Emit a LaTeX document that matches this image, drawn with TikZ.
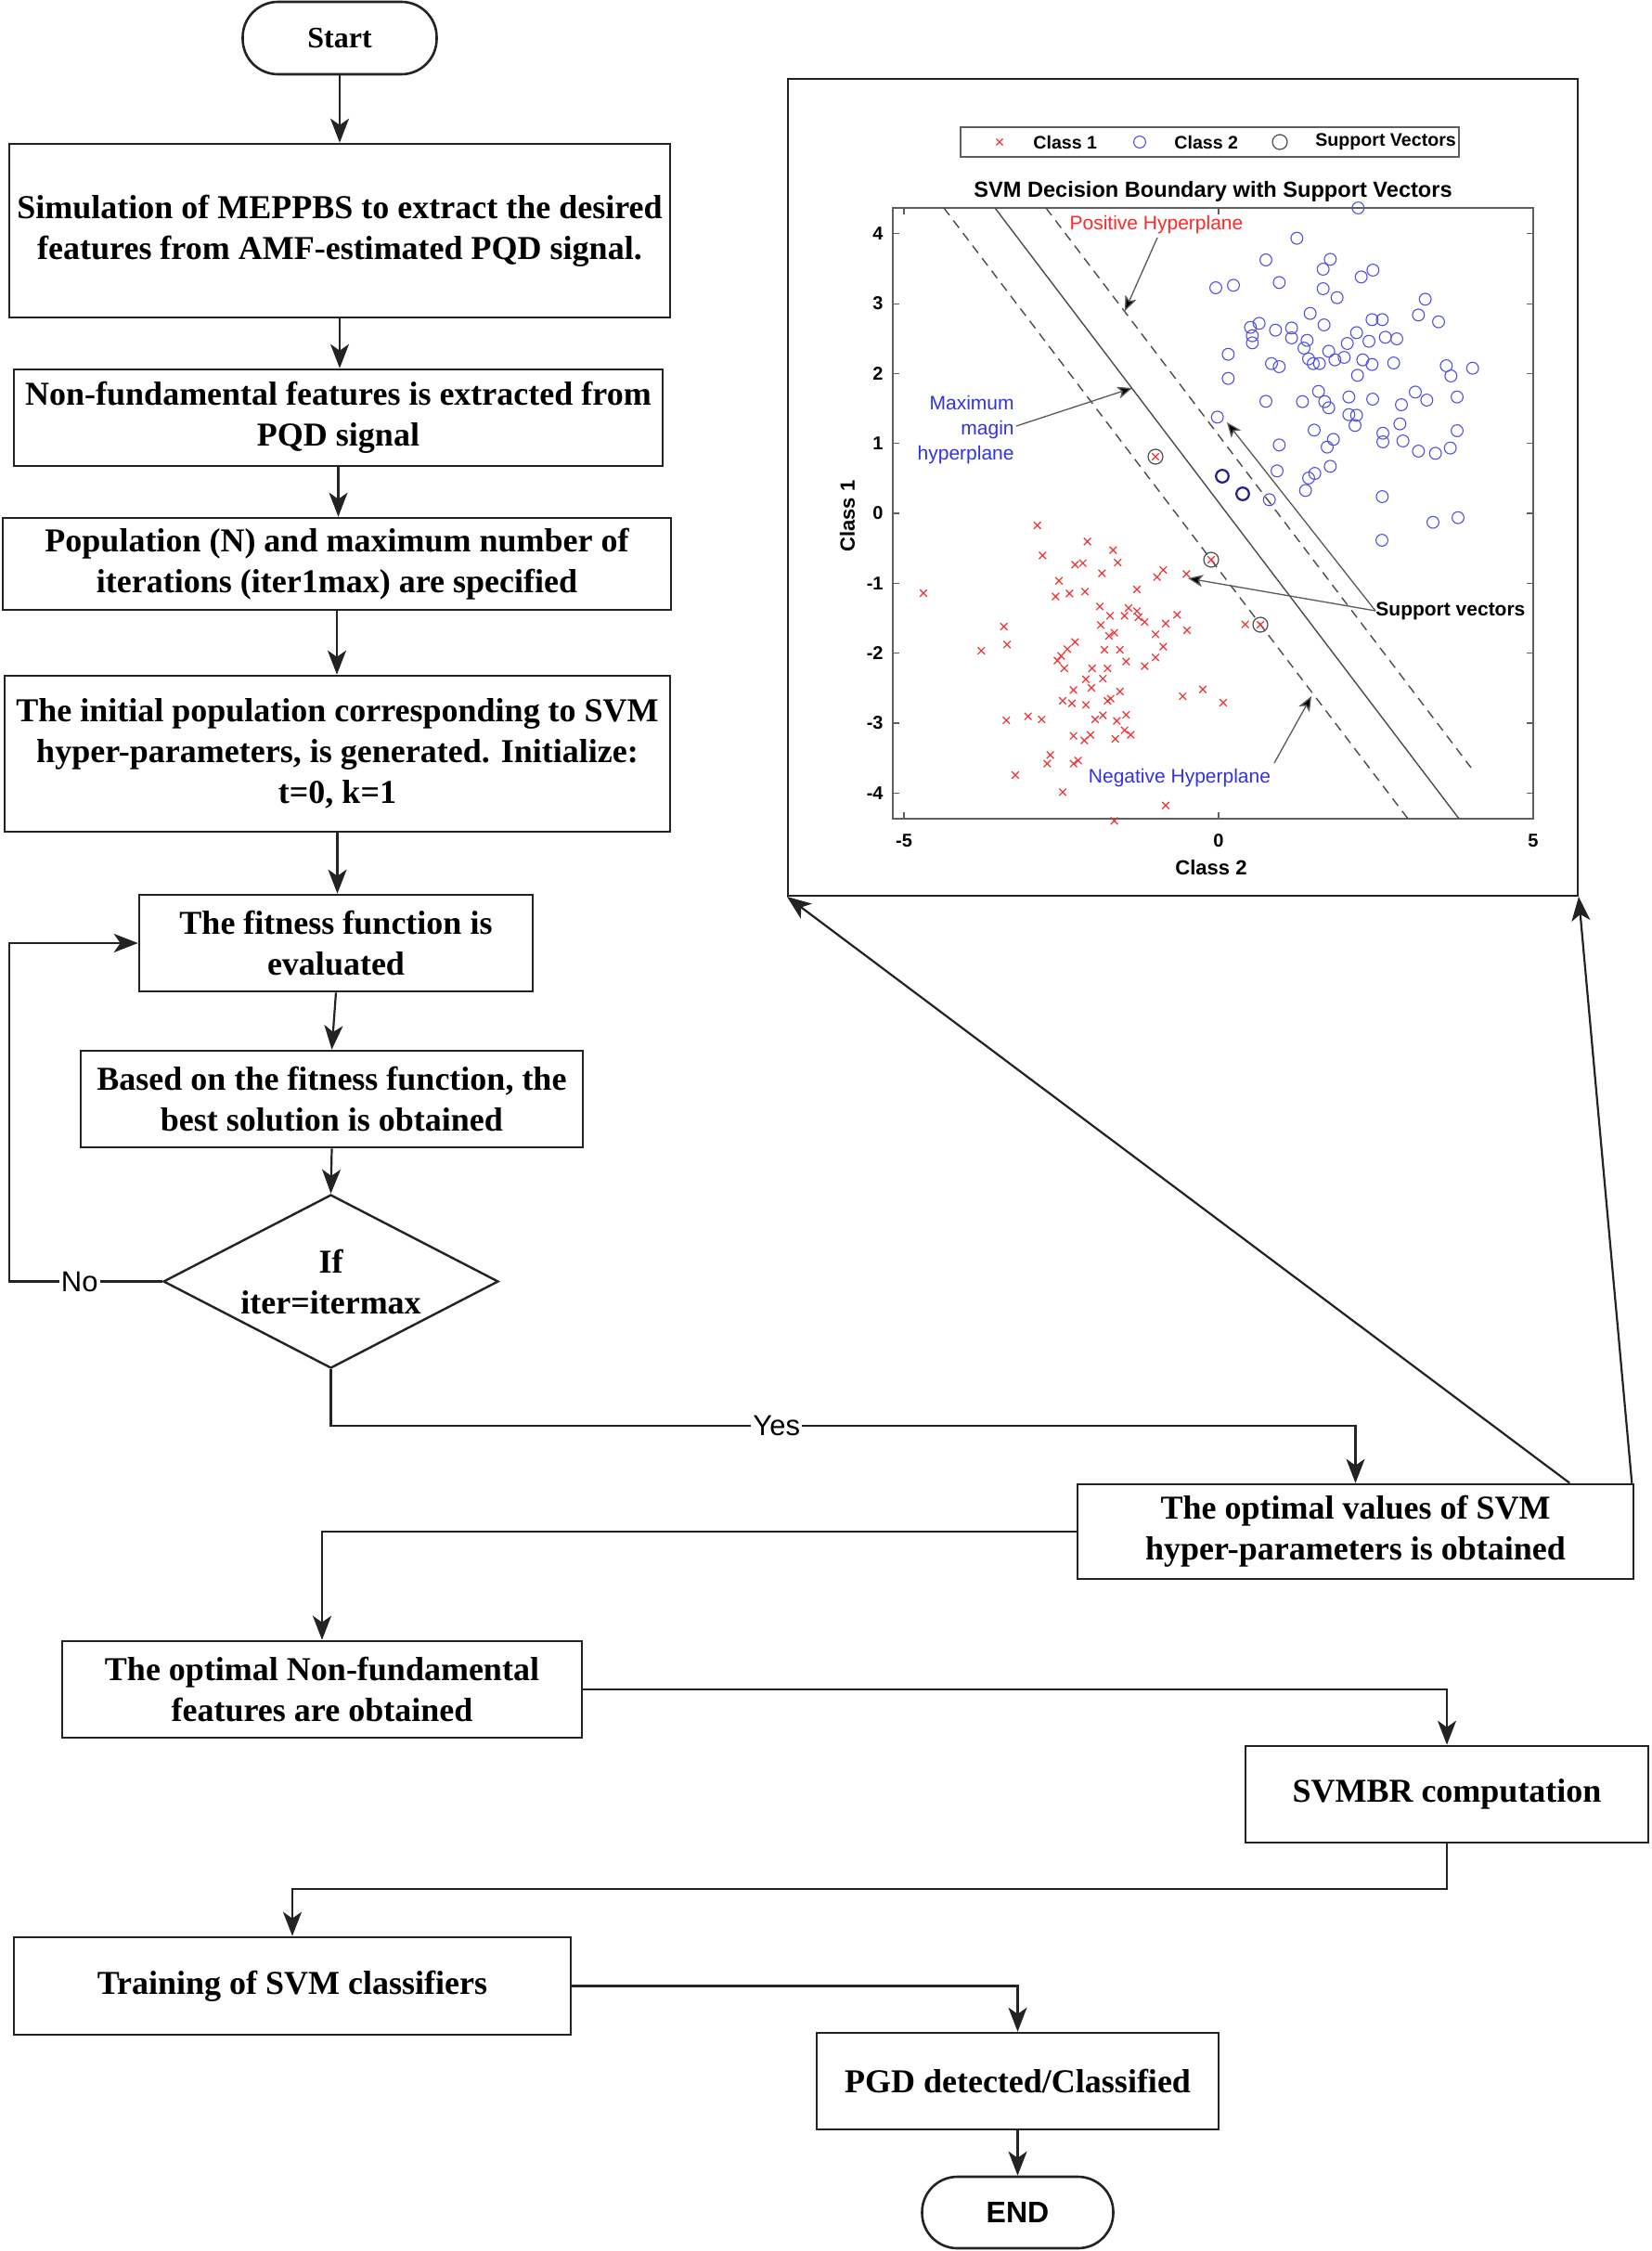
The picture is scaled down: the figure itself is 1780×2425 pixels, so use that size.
\documentclass[tikz,border=0pt]{standalone}
\usepackage{fontspec}
\setmainfont{Liberation Serif}
\setsansfont{Liberation Sans}
\usetikzlibrary{shapes.geometric,arrows.meta,calc}
\definecolor{boxline}{RGB}{35,35,35}
\definecolor{ptred}{RGB}{240,50,50}
\definecolor{ptblue}{RGB}{80,80,230}
\definecolor{svblue}{RGB}{30,30,140}
\definecolor{annblue}{RGB}{50,50,225}
\definecolor{annred}{RGB}{255,40,40}
\definecolor{axgray}{RGB}{95,95,95}
\begin{document}
\begin{tikzpicture}[x=0.5pt,y=-0.5pt,
  box/.style={draw=boxline, line width=1.3pt, rectangle, inner sep=0pt, align=center,
              font=\bfseries\fontsize{18}{22}\selectfont},
  term/.style={box, rounded corners=19pt},
  conn/.style={line width=1.1pt, draw=boxline, -{Stealth[length=13pt,width=10pt,inset=3.5pt]}},
  lab/.style={font=\sffamily\fontsize{15.5}{18}\selectfont, fill=white, inner sep=1pt},
  bluept/.style={draw=ptblue, line width=0.55pt},
  redpt/.style={draw=ptred, line width=0.6pt},
  svring/.style={draw=black!70, line width=0.6pt},
  hyp/.style={draw=black!70, line width=0.7pt},
  hypd/.style={hyp, dash pattern=on 5pt off 3.5pt},
  ann/.style={draw=black!65, line width=0.65pt, -{Stealth[length=8pt,width=6.5pt,inset=2pt,fill=black]}},
  annfont/.style={font=\sffamily\fontsize{10.5}{13.3}\selectfont},
  tickfont/.style={font=\sffamily\bfseries\fontsize{10}{12}\selectfont},
  legfont/.style={font=\sffamily\bfseries\fontsize{9.8}{12}\selectfont}
]
\useasboundingbox (0,0) rectangle (1780,2425);
\fill[white] (0,0) rectangle (1780,2425);

% ---------------- flowchart nodes ----------------
\node[term, minimum width=104.5pt, minimum height=39pt, font=\bfseries\fontsize{16}{19}\selectfont] (start) at (366,41) {Start};
\node[box, minimum width=356pt, minimum height=93.5pt] (b1) at (366,248.5)
  {Simulation of MEPPBS to extract the desired\\features from AMF-estimated PQD signal.};
\node[box, minimum width=349.5pt, minimum height=52pt] (b2) at (364.5,450)
  {Non-fundamental features is extracted from\\PQD signal};
\node[box, minimum width=360pt, minimum height=49.5pt] (b3) at (363,607.5)
  {Population (N) and maximum number of\\iterations (iter1max) are specified};
\node[box, minimum width=358.5pt, minimum height=84pt] (b4) at (363.5,812)
  {The initial population corresponding to SVM\\hyper-parameters, is generated. Initialize:\\t=0, k=1};
\node[box, minimum width=212pt, minimum height=52pt] (b5) at (362,1016)
  {The fitness function is\\evaluated};
\node[box, minimum width=270.5pt, minimum height=52pt] (b6) at (357.5,1184)
  {Based on the fitness function, the\\best solution is obtained};
\node[diamond, draw=boxline, line width=1.2pt, inner sep=0pt, minimum width=180.5pt, minimum height=93.5pt] (dia) at (356.5,1380.5) {};
\node[align=center, font=\bfseries\fontsize{18}{22}\selectfont] (diatext) at (dia.center) {If\\iter=itermax};
\node[box, minimum width=299.5pt, minimum height=51pt] (b7) at (1460.5,1650)
  {The optimal values of SVM\\hyper-parameters is obtained};
\node[box, minimum width=280pt, minimum height=52pt] (b8) at (347,1820)
  {The optimal Non-fundamental\\features are obtained};
\node[box, minimum width=217pt, minimum height=52pt] (b9) at (1559,1933)
  {SVMBR computation};
\node[box, minimum width=300pt, minimum height=52.5pt] (b10) at (315,2139.5)
  {Training of SVM classifiers};
\node[box, minimum width=216.5pt, minimum height=52pt] (b11) at (1096.5,2242)
  {PGD detected/Classified};
\node[term, minimum width=103pt, minimum height=38.5pt, font=\sffamily\bfseries\fontsize{16}{19}\selectfont] (end) at (1096.5,2383.5) {END};

\node[draw=boxline, line width=1pt, inner sep=0pt, minimum width=425.5pt, minimum height=440pt] (frame) at (1274.5,525) {};

% ---------------- connectors ----------------
\coordinate (loopx) at (10,0);
\coordinate (yesy) at (0,1536);
\coordinate (lowy) at (0,2035);
\draw[conn] (start.south) -- (start.south |- b1.north);
\draw[conn] (b1.south) -- (b1.south |- b2.north);
\draw[conn] (b2.south) -- (b2.south |- b3.north);
\draw[conn] (b3.south) -- (b3.south |- b4.north);
\draw[conn] (b4.south) -- (b4.south |- b5.north);
\draw[conn] (b5.south) -- (b6.north);
\draw[conn] (b6.south) -- (dia.north);
\draw[conn] (dia.west) -- node[lab, pos=0.54] {No} (dia.west -| loopx) |- (b5.west);
\draw[conn] (dia.south) -- (dia.south |- yesy) -- node[lab, pos=0.435] {Yes} (b7.north |- yesy) -- (b7.north);
\draw[conn] (b7.west) -| (b8.north);
\draw[conn] (b8.east) -| (b9.north);
\draw[conn] (b9.south) -- (b9.south |- lowy) -| (b10.north);
\draw[conn] (b10.east) -| (b11.north);
\draw[conn] (b11.south) -- (end.north);
\draw[conn] ($(b7.north east)+(-70,0)$) -- (frame.south west);
\draw[conn] ($(b7.north east)+(-3,0)$) -- (frame.south east);

% ---------------- embedded SVM plot ----------------
% legend
\draw[axgray, line width=0.7pt] (1035,137) rectangle (1572,169);
\draw[redpt] (1073.5,149.5) -- ++(7,7) ++(-7,0) -- ++(7,-7);
\node[legfont, anchor=west, inner sep=0pt] (lg1) at (1113,153) {Class 1};
\draw[bluept] (1228,153) circle[radius=3.2pt];
\node[legfont, anchor=west, inner sep=0pt] (lg2) at (1265,153) {Class 2};
\draw[svring] (1379,153) circle[radius=4pt];
\node[legfont, anchor=west, inner sep=0pt] (lg3) at (1417,153) {Support Vectors};
% title
\node[font=\sffamily\bfseries\fontsize{11.8}{14}\selectfont] (ptitle) at (1307,206) {SVM Decision Boundary with Support Vectors};
% axes
\draw[axgray, line width=0.8pt] (962,224) rectangle (1652,882);
\foreach \k in {-4,...,4} {
  \draw[axgray, line width=0.6pt] (962,{553-75.3*\k}) -- ++(7,0);
  \draw[axgray, line width=0.6pt] (1652,{553-75.3*\k}) -- ++(-7,0);
  \node[tickfont, anchor=east, inner sep=0pt] at (952,{553-75.3*\k}) {\k};
}
\foreach \k in {-5,0,5} {
  \draw[axgray, line width=0.6pt] ({1313+67.8*\k},882) -- ++(0,-7);
  \draw[axgray, line width=0.6pt] ({1313+67.8*\k},224) -- ++(0,7);
  \node[tickfont, inner sep=0pt] at ({1313+67.8*\k},906) {\k};
}
\node[font=\sffamily\bfseries\fontsize{11}{13}\selectfont, rotate=90] (ylab) at (913,556) {Class 1};
\node[font=\sffamily\bfseries\fontsize{11}{13}\selectfont] (xlab) at (1305,935) {Class 2};
% hyperplanes
\draw[hypd] (1017,224) -- (1517,882);
\draw[hyp] (1072,224) -- (1572,882);
\draw[hypd] (1127,224) -- (1585,827);
% blue class
\foreach \a/\b in {520/42, 322/140, 222/210, 430/208, 407/240, 568/243, 530/265, 60/300, 117/292,
  265/283, 407/303, 452/332, 737/337, 715/388, 780/410, 365/383, 410/420, 565/403, 598/403,
  172/428, 200/415, 253/437, 305/430, 305/462, 178/455, 178/478, 355/470, 345/495, 515/445,
  485/480, 555/473, 608/460, 645/465, 100/515, 425/505, 445/533, 475/525, 360/530, 375/545,
  395/545, 240/545, 265/555, 535/533, 565/548, 635/543, 805/552, 820/585, 890/560, 100/593,
  518/583, 222/667, 340/668, 392/635, 412/668, 425/688, 490/653, 567/660, 705/637, 742/663,
  660/678, 840/653, 490/710, 515/712, 510/745, 655/740, 378/760, 265/808, 440/790, 420/815,
  600/770, 600/798, 665/795, 715/828, 770/835, 818/818, 840/762, 65/718, 258/892, 430/877,
  380/900, 360/915, 350/955, 598/975, 762/1058, 843/1043, 233/985, 597/1116}
  \draw[bluept] ({1290+\a/3},{210+\b/3}) circle[radius=3.2pt];
\draw[draw=svblue, line width=1.1pt] (1317,513) circle[radius=3.4pt];
\draw[draw=svblue, line width=1.1pt] (1339,532) circle[radius=3.4pt];
% red class
\foreach \a/\b in {503/78, 665/130, 748/158, 520/175, 763/198, 625/205, 650/200, 712/233, 890/245,
  910/222, 985/235, 135/297, 573/257, 562/308, 607/298, 657/292, 825/285, 705/340, 738/370,
  798/345, 785/370, 825/355, 830/375, 850/390, 955/367, 918/395, 885/430, 987/417, 395/405,
  708/400, 735/435, 752/425, 405/463, 322/483, 600/478, 625/455, 580/500, 568/515, 590/540,
  720/480, 770/480, 790/518, 910/470, 885/505, 850/533, 680/540, 730/540, 715/573, 660/575,
  678/603, 620/610, 770/615, 730/645, 740/638, 585/645, 615/653, 660/658, 403/708, 473/695,
  517/705, 690/705, 715/692, 790/690, 760/710, 620/758, 675/755, 655/773, 755/768, 785/740,
  805/755, 545/820, 535/848, 620/848, 635/838, 432/885, 585/940, 918/983, 752/1033, 973/630,
  1038/608, 1104/651, 1175/398, 885/-144, 1065/189, 1224/399}
  \draw[redpt] ({950+\a/3-3.8},{540+\b/3-3.8}) -- ++(7.6,7.6) ++(-7.6,0) -- ++(7.6,-7.6);
% support vector rings
\draw[svring] (1245,492) circle[radius=4pt];
\draw[svring] (1305,603) circle[radius=4pt];
\draw[svring] (1358,673) circle[radius=4pt];
% annotations
\node[annfont, text=annred, inner sep=0pt] (posl) at (1246,242) {Positive Hyperplane};
\coordinate (posT) at (1212,335);
\draw[ann] (1247,256) -- (posT);
\node[annfont, text=annblue, align=right, anchor=east, inner sep=0pt] (mmh) at (1093,463) {Maximum\\magin\\hyperplane};
\coordinate (mmhT) at (1220,418);
\draw[ann] (1095,459) -- (mmhT);
\node[font=\sffamily\bfseries\fontsize{10.5}{13}\selectfont, anchor=west, inner sep=0pt] (svl) at (1482,658) {Support vectors};
\coordinate (svT1) at (1280,623);
\coordinate (svT2) at (1322,455);
\draw[ann] (svl.west) -- (svT1);
\draw[ann] (svl.west) -- (svT2);
\node[annfont, text=annblue, inner sep=0pt] (negl) at (1271,838) {Negative Hyperplane};
\coordinate (negT) at (1413,750);
\draw[ann] (1373,822) -- (negT);
\end{tikzpicture}
\end{document}
